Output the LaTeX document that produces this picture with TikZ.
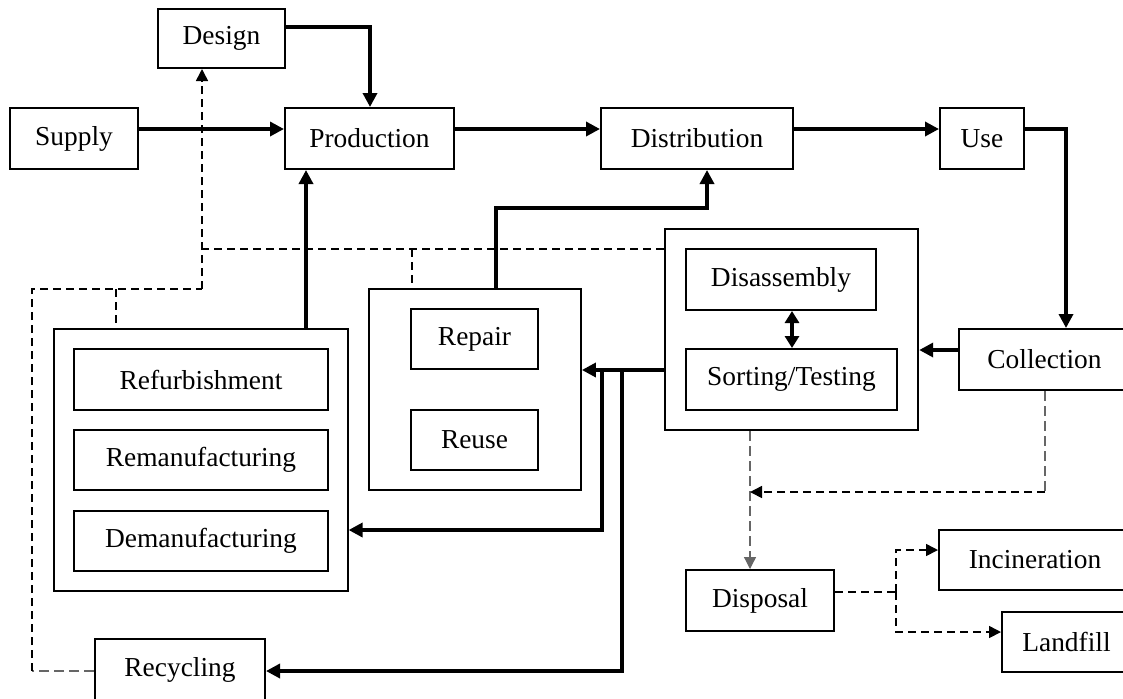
\documentclass[tikz,border=0pt]{standalone}
\usepackage{fontspec}
\setmainfont{Liberation Serif}
\usetikzlibrary{arrows.meta}
\begin{document}
\begin{tikzpicture}[x=0.5pt,y=-0.5pt,
  box/.style={draw, line width=1pt, inner sep=0pt, font=\fontsize{13.7pt}{16pt}\selectfont},
  grp/.style={draw, inner sep=0pt},
  flow/.style={line width=1.7pt, -{Triangle[length=7pt,width=7pt]}},
  flowline/.style={line width=1.7pt},
  dsh/.style={line width=0.8pt, dash pattern=on 4pt off 2.5pt},
  dshgray/.style={line width=0.6pt, draw=black!60, dash pattern=on 5pt off 2.5pt},
  dtip/.style={-{Triangle[length=6pt,width=6pt]}}]
\useasboundingbox (0,0) rectangle (1123,698);
\clip (0,0) rectangle (1123,698);
\fill[white] (0,0) rectangle (1123,698);

% top row
\node[box, minimum width=63.5pt, minimum height=29.5pt] (Design) at (221.5,38.5) {Design};
\node[box, minimum width=64pt, minimum height=30.5pt] (Supply) at (74,138.5) {Supply};
\node[box, minimum width=84.5pt, minimum height=30.5pt] (Production) at (369.5,138.5) {Production};
\node[box, minimum width=96pt, minimum height=30.5pt] (Distribution) at (697,138.5) {Distribution};
\node[box, minimum width=42pt, minimum height=30.5pt] (Use) at (982,138.5) {Use};

% groups
\node[grp, line width=0.6pt, minimum width=147pt, minimum height=131pt] (RefG) at (201,460) {};
\node[grp, line width=0.9pt, minimum width=106pt, minimum height=100.5pt] (RepG) at (475,389.5) {};
\node[grp, line width=1.2pt, minimum width=126.5pt, minimum height=100.5pt] (DisG) at (791.5,329.5) {};

\node[box, minimum width=127pt, minimum height=30.5pt] (Refurb) at (201,379.5) {Refurbishment};
\node[box, minimum width=127pt, minimum height=30pt] (Reman) at (201,460) {Remanufacturing};
\node[box, minimum width=127pt, minimum height=30pt] (Deman) at (201,541) {Demanufacturing};
\node[box, minimum width=63.5pt, minimum height=30pt] (Repair) at (474.5,339) {Repair};
\node[box, minimum width=63.5pt, minimum height=30pt] (Reuse) at (474.5,440) {Reuse};
\node[box, minimum width=95pt, minimum height=30.5pt] (Disassembly) at (781,279.5) {Disassembly};
\node[box, minimum width=105.5pt, minimum height=30.5pt] (Sorting) at (791.5,379.5) {Sorting/Testing};

\node[box, minimum width=85.5pt, minimum height=30.5pt] (Collection) at (1044.5,359.5) {Collection};
\node[box, minimum width=85pt, minimum height=30.5pt] (Recycling) at (180,669.5) {Recycling};
\node[box, minimum width=74pt, minimum height=30.5pt] (Disposal) at (760,600.5) {Disposal};
\node[box, minimum width=96pt, minimum height=30pt] (Incineration) at (1035,560) {Incineration};
\node[box, minimum width=64.5pt, minimum height=30pt] (Landfill) at (1066.5,642) {Landfill};

% coordinates
\coordinate (m) at (0,129);
\coordinate (d1) at (370,27);
\coordinate (u1) at (1066,129);
\coordinate (p1) at (306,0);
\coordinate (r1) at (496,208);
\coordinate (r2) at (707,208);
\coordinate (c1) at (0,350);
\coordinate (s1) at (0,370);
\coordinate (b1) at (602,370);
\coordinate (b2) at (602,530);
\coordinate (b3) at (622,370);
\coordinate (b4) at (622,671);
\coordinate (k) at (792,0);
\coordinate (e1) at (750,0);
\coordinate (f1) at (1045,492);
\coordinate (f2) at (750,492);
\coordinate (g1) at (896,592);
\coordinate (g2) at (896,550);
\coordinate (g3) at (896,632);
\coordinate (h1) at (202,289);
\coordinate (h2) at (202,249);
\coordinate (q3) at (32,289);
\coordinate (q4) at (32,671);
\coordinate (q5) at (116,289);
\coordinate (q6) at (412,249);

% solid flows
\draw[flow] (Supply.east |- m) -- (Production.west |- m);
\draw[flow] (Production.east |- m) -- (Distribution.west |- m);
\draw[flow] (Distribution.east |- m) -- (Use.west |- m);
\draw[flow] (Use.east |- u1) -- (u1) -- (u1 |- Collection.north);
\draw[flow] (Design.east |- d1) -- (d1) -- (d1 |- Production.north);
\draw[flow] (p1 |- RefG.north) -- (p1 |- Production.south);
\draw[flow] (r1 |- RepG.north) -- (r1) -- (r2) -- (r2 |- Distribution.south);
\draw[flow] (Collection.west |- c1) -- (DisG.east |- c1);
\draw[flow] (DisG.west |- s1) -- (RepG.east |- s1);
\draw[flow] (b1) -- (b2) -- (RefG.east |- b2);
\draw[flow] (b3) -- (b4) -- (Recycling.east |- b4);
\draw[line width=1.7pt, {Triangle[length=6pt,width=7pt]}-{Triangle[length=6pt,width=7pt]}] (k |- Disassembly.south) -- (k |- Sorting.north);

% dashed flows
\draw[dshgray, dtip] (e1 |- DisG.south) -- (e1 |- Disposal.north);
\draw[dshgray] (f1 |- Collection.south) -- (f1);
\draw[dsh, dtip] (f1) -- (f2);
\draw[dsh] (Disposal.east |- g1) -- (g1);
\draw[dsh, dtip] (g1) -- (g2) -- (Incineration.west |- g2);
\draw[dsh, dtip] (g1) -- (g3) -- (Landfill.west |- g3);
\draw[dshgray] (Recycling.west |- q4) -- (q4);
\draw[dsh] (q4) -- (q3) -- (h1);
\draw[dsh, dtip] (h1) -- (h1 |- Design.south);
\draw[dsh] (DisG.west |- h2) -- (h2);
\draw[dsh] (q5) -- (q5 |- RefG.north);
\draw[dsh] (q6) -- (q6 |- RepG.north);
\end{tikzpicture}
\end{document}
